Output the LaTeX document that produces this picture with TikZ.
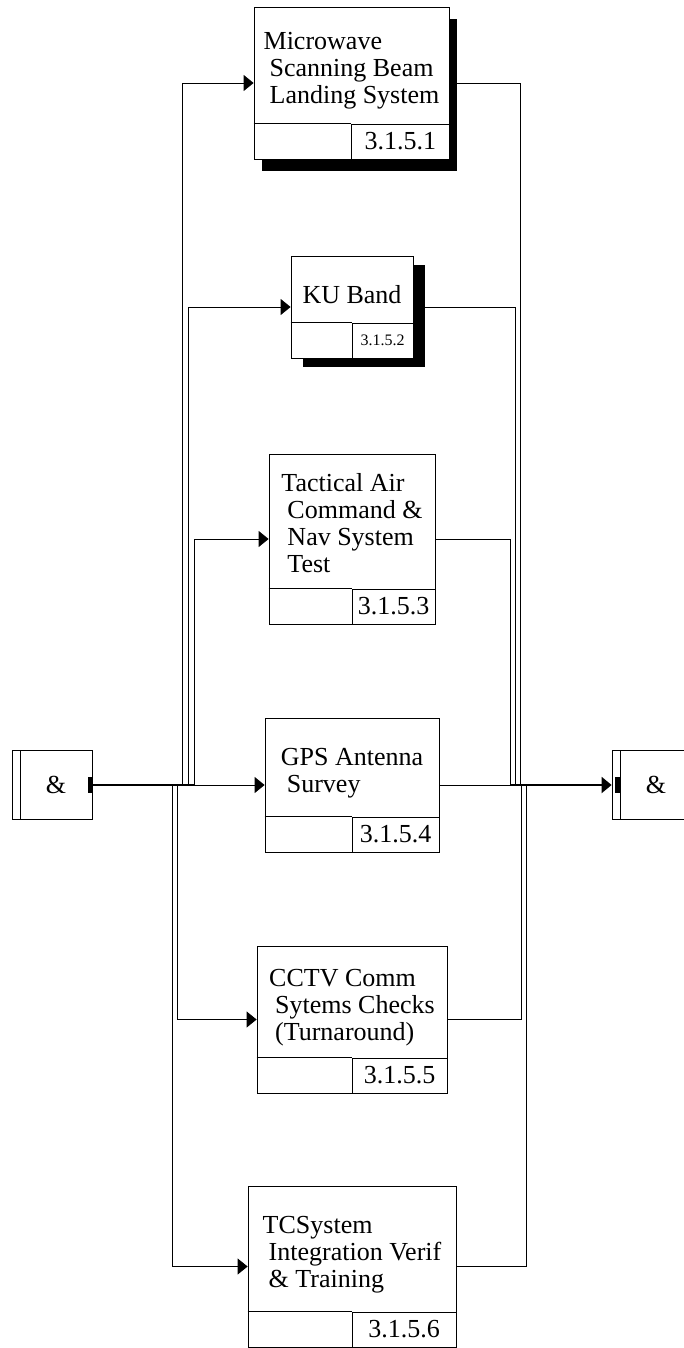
\documentclass[tikz,border=0pt]{standalone}
\usepackage{fontspec}
\setmainfont{Liberation Serif}
\usepackage{tikz}
\usetikzlibrary{
  arrows.meta,
  calc,
  shadows
}
\newcommand{\lsp}{\hspace*{6pt}}

\begin{document}
\begin{tikzpicture}[
  x=1pt, y=-1pt,
  taskbox/.style={rectangle, draw, fill=white, line width=0.8pt, inner sep=0pt},
  tasktext/.style={align=left, inner sep=0pt, yshift=-6pt, font=\fontsize{26}{27}\selectfont},
  numcell/.style={rectangle, draw, line width=0.8pt, minimum height=35pt, inner sep=0pt, font=\fontsize{26}{27}\selectfont},
  joinbox/.style={rectangle, draw, fill=white, line width=0.8pt, minimum width=80pt, minimum height=69pt, inner sep=0pt, font=\fontsize{26}{27}\selectfont,
    path picture={\draw[line width=0.8pt] ([xshift=8pt]path picture bounding box.north west) -- ([xshift=8pt]path picture bounding box.south west);}},
  link/.style={line width=0.8pt},
  arr/.style={link, -{Triangle[length=10pt, width=16pt]}},
  trunk/.style={line width=2pt},
]
\fill[white] (0,0) rectangle (684,1348);
\clip (0,0) rectangle (684,1348);

% Nodos principales
\node[taskbox, minimum width=195pt, minimum height=152pt, drop shadow={shadow xshift=8pt, shadow yshift=-12pt, fill=black, opacity=1}] (msbl) at (351.5,83) {};
\node[taskbox, minimum width=122pt, minimum height=102pt, drop shadow={shadow xshift=12pt, shadow yshift=-9pt, fill=black, opacity=1}] (ku) at (352,307) {};
\node[taskbox, minimum width=166pt, minimum height=170pt] (tacan) at (352,539) {};
\node[taskbox, minimum width=174pt, minimum height=134pt] (gps) at (352,785) {};
\node[taskbox, minimum width=190pt, minimum height=147pt] (cctv) at (352,1019.5) {};
\node[taskbox, minimum width=208pt, minimum height=161pt] (tcs) at (352,1266.5) {};

\node[joinbox] (andL) at (52,785) {\hspace*{8pt}\&};
\node[joinbox] (andR) at (652,785) {\hspace*{8pt}\&};

% Celdas de numero
\node[numcell, minimum width=97.5pt, anchor=south east] (msbl-num) at (msbl.south east) {3.1.5.1};
\node[numcell, minimum width=61pt, anchor=south east, font=\fontsize{16}{18}\selectfont] (ku-num) at (ku.south east) {3.1.5.2};
\node[numcell, minimum width=83pt, anchor=south east] (tacan-num) at (tacan.south east) {3.1.5.3};
\node[numcell, minimum width=87pt, anchor=south east] (gps-num) at (gps.south east) {3.1.5.4};
\node[numcell, minimum width=95pt, anchor=south east] (cctv-num) at (cctv.south east) {3.1.5.5};
\node[numcell, minimum width=104pt, anchor=south east] (tcs-num) at (tcs.south east) {3.1.5.6};

\foreach \t in {msbl, ku, tacan, gps, cctv, tcs}
  \draw[link] (\t.west |- \t-num.north) -- (\t-num.north west);

% Textos
\node[tasktext] at ($(msbl.north)!0.5!(msbl.north |- msbl-num.north)$) {Microwave\\ \lsp Scanning Beam\\ \lsp Landing System};
\node[tasktext] at ($(ku.north)!0.5!(ku.north |- ku-num.north)$) {KU Band};
\node[tasktext, yshift=4pt] at ($(tacan.north)!0.5!(tacan.north |- tacan-num.north)$) {Tactical Air\\ \lsp Command \&\\ \lsp Nav System\\ \lsp Test};
\node[tasktext] at ($(gps.north)!0.5!(gps.north |- gps-num.north)$) {GPS Antenna\\ \lsp Survey};
\node[tasktext] at ($(cctv.north)!0.5!(cctv.north |- cctv-num.north)$) {CCTV Comm\\ \lsp Sytems Checks\\ \lsp (Turnaround)};
\node[tasktext] at ($(tcs.north)!0.5!(tcs.north |- tcs-num.north)$) {TCSystem\\ \lsp Integration Verif\\ \lsp \& Training};

% Puntos de bifurcacion
\coordinate (bl1) at (182,785);
\coordinate (bl2) at (188,785);
\coordinate (bl3) at (194,785);
\coordinate (bl4) at (177,785);
\coordinate (bl5) at (172,785);
\coordinate (br1) at (520,785);
\coordinate (br2) at (515,785);
\coordinate (br3) at (510,785);
\coordinate (br4) at (521.5,785);
\coordinate (br5) at (526.5,785);

% Flechas de entrada
\draw[trunk] (andL.east) -- (bl3);
\draw[arr] (bl3) -- (gps.west);
\draw[arr] (bl1) |- (msbl.west);
\draw[arr] (bl2) |- (ku.west);
\draw[arr] (bl3) |- (tacan.west);
\draw[arr] (bl4) |- (cctv.west);
\draw[arr] (bl5) |- (tcs.west);
\fill ([shift={(-4pt,-8pt)}]andL.east) rectangle ([shift={(0pt,8pt)}]andL.east);

% Flechas de salida
\draw[link] (msbl.east) -| (br1);
\draw[link] (ku.east) -| (br2);
\draw[link] (tacan.east) -| (br3);
\draw[link] (gps.east) -- (br3);
\draw[link] (cctv.east) -| (br4);
\draw[link] (tcs.east) -| (br5);
\draw[trunk, -{Triangle[length=10pt, width=16pt]}] (br3) -- (andR.west);
\fill ([shift={(3pt,-8pt)}]andR.west) rectangle ([shift={(8pt,8pt)}]andR.west);

\end{tikzpicture}
\end{document}
